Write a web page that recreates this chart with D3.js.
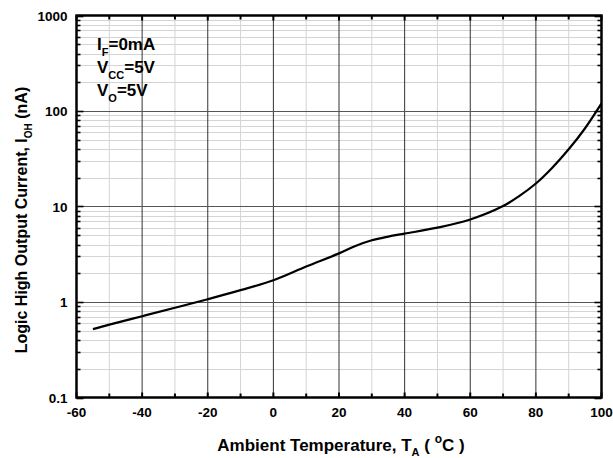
<!DOCTYPE html>
<html>
<head>
  <meta charset="UTF-8">
  <style>
    body {
      margin: 0;
      padding: 0;
      background-color: #ffffff;
      font-family: "Liberation Sans", Arial, sans-serif;
    }
    svg {
      display: block;
    }
    .tick-label {
      font-size: 13.5px;
      font-weight: bold;
      fill: #000;
    }
    .axis-title {
      font-size: 17px;
      font-weight: bold;
      fill: #000;
    }
    .note {
      font-size: 17px;
      font-weight: bold;
      fill: #000;
    }
  </style>
</head>
<body>
  <svg></svg>
  <script src="https://d3js.org/d3.v7.min.js"></script>

  <script>
  let width = 613, height = 458;

  // curve
  const temps   = [-55, -50, -40, -30, -20, -10, 0, 10, 20, 25, 30, 35, 40, 50, 60, 70, 75, 80, 85, 90, 95, 100];
  const current = [0.52, 0.58, 0.71, 0.87, 1.07, 1.33, 1.69, 2.35, 3.23, 3.86, 4.43, 4.84, 5.2, 6.0, 7.3, 10.1, 12.9, 17.4, 25.5, 39.7, 66, 120];

  const xTicks = [-60, -40, -20, 0, 20, 40, 60, 80, 100];
  const yTicks = [0.1, 1, 10, 100, 1000];
  const yTickLabels = ["0.1", "1", "10", "100", "1000"];
  const notes = [["I", "F", "=0mA"], ["V", "CC", "=5V"], ["V", "O", "=5V"]];

  const margin = {left: 76.5, right: 11.5, top: 15.5, bottom: 60.5};

  let svg = d3.select("svg")
      .attr("width", width)
      .attr("height", height);

  const x = d3.scaleLinear()
      .domain([-60, 100])
      .range([margin.left, width - margin.right]);

  const y = d3.scaleLog()
      .domain([0.1, 1000])
      .range([height - margin.bottom, margin.top]);

  // minor values
  const xMinor = d3.range(-50, 100, 20);
  const yMinor = [];
  [0.1, 1, 10, 100].forEach(d => {
      for (let k = 2; k <= 9; k++) yMinor.push(d * k);
  });

  const grid = svg.append("g").attr("id", "grid");

  grid.selectAll(".vminor")
      .data(xMinor)
      .enter()
      .append("line")
      .attr("x1", d => x(d)).attr("x2", d => x(d))
      .attr("y1", y(0.1)).attr("y2", y(1000))
      .attr("stroke", "#d4d4d4")
      .attr("stroke-width", 1);

  grid.selectAll(".hminor")
      .data(yMinor)
      .enter()
      .append("line")
      .attr("x1", x(-60)).attr("x2", x(100))
      .attr("y1", d => Math.round(y(d)) + 0.5).attr("y2", d => Math.round(y(d)) + 0.5)
      .attr("stroke", "#d4d4d4")
      .attr("stroke-width", 1);

  grid.selectAll(".vmajor")
      .data(xTicks.slice(1, -1))
      .enter()
      .append("line")
      .attr("x1", d => x(d)).attr("x2", d => x(d))
      .attr("y1", y(0.1)).attr("y2", y(1000))
      .attr("stroke", "#333")
      .attr("stroke-width", 1);

  grid.selectAll(".hmajor")
      .data(yTicks.slice(1, -1))
      .enter()
      .append("line")
      .attr("x1", x(-60)).attr("x2", x(100))
      .attr("y1", d => Math.round(y(d)) + 0.5).attr("y2", d => Math.round(y(d)) + 0.5)
      .attr("stroke", "#555")
      .attr("stroke-width", 1.2);

  // tick marks on all four sides, pointing in
  const ticks = svg.append("g").attr("id", "ticks").attr("stroke", "#000");

  const xAll = xTicks.map(d => ({v: d, len: 5})).concat(xMinor.map(d => ({v: d, len: 4})));
  [y(0.1), y(1000)].forEach((yy, i) => {
      ticks.selectAll(null)
          .data(xAll)
          .enter()
          .append("line")
          .attr("x1", d => x(d.v)).attr("x2", d => x(d.v))
          .attr("y1", yy)
          .attr("y2", d => i === 0 ? yy - d.len : yy + d.len)
          .attr("stroke-width", 2);
  });

  const yAll = yTicks.map(d => ({v: d, len: 7})).concat(yMinor.map(d => ({v: d, len: 4})));
  [x(-60), x(100)].forEach((xx, i) => {
      ticks.selectAll(null)
          .data(yAll)
          .enter()
          .append("line")
          .attr("y1", d => Math.round(y(d.v)) + 0.5).attr("y2", d => Math.round(y(d.v)) + 0.5)
          .attr("x1", xx)
          .attr("x2", d => i === 0 ? xx + d.len : xx - d.len)
          .attr("stroke-width", 1.6);
  });

  // frame
  svg.append("rect")
      .attr("x", x(-60))
      .attr("y", y(1000))
      .attr("width", x(100) - x(-60))
      .attr("height", y(0.1) - y(1000))
      .attr("fill", "none")
      .attr("stroke", "#000")
      .attr("stroke-width", 2.5);

  // data line
  const line = d3.line()
      .x((d, i) => x(temps[i]))
      .y(d => y(d))
      .curve(d3.curveCatmullRom.alpha(0.5));

  svg.append("path")
      .datum(current)
      .attr("d", line)
      .attr("fill", "none")
      .attr("stroke", "#000")
      .attr("stroke-width", 2.2);

  // tick labels
  svg.selectAll(".xlab")
      .data(xTicks)
      .enter()
      .append("text")
      .attr("class", "tick-label")
      .attr("x", d => x(d))
      .attr("y", y(0.1) + 19)
      .attr("text-anchor", "middle")
      .text(d => d);

  svg.selectAll(".ylab")
      .data(yTicks)
      .enter()
      .append("text")
      .attr("class", "tick-label")
      .attr("x", x(-60) - 9)
      .attr("y", d => y(d) + 5)
      .attr("text-anchor", "end")
      .text((d, i) => yTickLabels[i]);

  // conditions
  svg.selectAll(".note")
      .data(notes)
      .enter()
      .append("text")
      .attr("class", "note")
      .attr("x", 97)
      .attr("y", (d, i) => 49.5 + i * 23)
      .each(function (d) {
          const t = d3.select(this);
          t.append("tspan").text(d[0]);
          t.append("tspan").attr("dy", 6).style("font-size", "11px").text(d[1]);
          t.append("tspan").attr("dy", -6).text(d[2]);
      });

  // axis titles
  const xt = svg.append("text")
      .attr("class", "axis-title")
      .attr("x", 341)
      .attr("y", 451)
      .attr("text-anchor", "middle");
  xt.append("tspan").text("Ambient Temperature, T");
  xt.append("tspan").attr("dy", 5).style("font-size", "11px").text("A");
  xt.append("tspan").attr("dy", -5).text(" ( ");
  xt.append("tspan").attr("dy", -8).style("font-size", "12px").text("o");
  xt.append("tspan").attr("dy", 8).text("C )");

  const yt = svg.append("text")
      .attr("class", "axis-title")
      .style("font-size", "16px")
      .attr("transform", "translate(27, 220) rotate(-90)")
      .attr("text-anchor", "middle");
  yt.append("tspan").text("Logic High Output Current, I");
  yt.append("tspan").attr("dy", 5).style("font-size", "10px").text("OH");
  yt.append("tspan").attr("dy", -5).text(" (nA)");
  </script>

</body>
</html>
